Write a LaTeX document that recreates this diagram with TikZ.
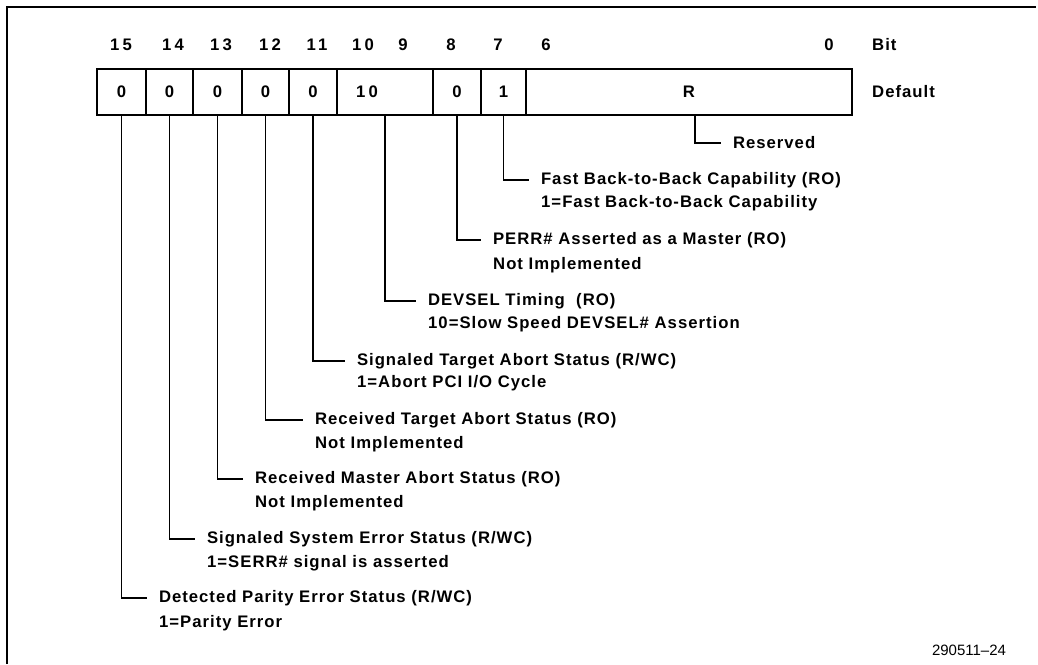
\documentclass[tikz,border=0pt]{standalone}
\usepackage{fontspec}
\setmainfont{Liberation Sans}[LetterSpace=6]
\newfontfamily\fignofont{Liberation Sans}
\newfontfamily\bitnofont{Liberation Sans}[LetterSpace=18]
\usetikzlibrary{positioning}

\begin{document}
\begin{tikzpicture}
    [
        x=1pt, y=-1pt,
        font=\fontsize{16.7}{19}\selectfont\bfseries,
        cell/.style={rectangle, draw, line width=1.4pt, minimum height=46pt, inner sep=0pt},
        bitno/.style={inner sep=0pt, font=\bitnofont\fontsize{16.7}{19}\selectfont\bfseries},
        field/.style={anchor=west, inner sep=0pt, outer xsep=12pt},
        note/.style={anchor=west, inner sep=0pt},
        lead/.style={line width=1.1pt},
    ]
    \useasboundingbox (0,0) rectangle (1038,664);
    \draw [line width=1.4pt] (7,664) -- (7,7) -- (1036,7);

    % register cells
    \node (c15) at (121.5,92) [cell, minimum width=49pt] {0};
    \node (c14) at (169.5,92) [cell, minimum width=47pt] {0};
    \node (c13) at (217.5,92) [cell, minimum width=49pt] {0};
    \node (c12) at (265.5,92) [cell, minimum width=47pt] {0};
    \node (c11) at (313,92) [cell, minimum width=48pt] {0};
    \node (c10) at (385,92) [cell, minimum width=96pt] {};
    \node (v10) at (367,92) [bitno] {10};
    \node (c8) at (457,92) [cell, minimum width=48pt] {0};
    \node (c7) at (503.5,92) [cell, minimum width=45pt] {1};
    \node (cr) at (689,92) [cell, minimum width=326pt] {R};

    % bit numbers
    \node (b15) at (121,45) [bitno] {15};
    \node (b14) at (173,45) [bitno] {14};
    \node (b13) at (221,45) [bitno] {13};
    \node (b12) at (270,45) [bitno] {12};
    \node (b11) at (317,45) [bitno] {11};
    \node (b10) at (363,45) [bitno] {10};
    \node (b9) at (403,45) [bitno] {9};
    \node (b8) at (451,45) [bitno] {8};
    \node (b7) at (498,45) [bitno] {7};
    \node (b6) at (546,45) [bitno] {6};
    \node (b0) at (829,45) [bitno] {0};
    \node (bit) at (872,45) [note] {Bit};
    \node (dflt) at (872,92) [note] {Default};

    % field descriptions
    \node (fr) at (721,143) [field] {Reserved};
    \node (f7) at (529,180) [field] {Fast Back-to-Back Capability (RO)};
    \node (n7) at (541,203) [note] {1=Fast Back-to-Back Capability};
    \node (f8) at (481,240) [field] {PERR\# Asserted as a Master (RO)};
    \node (n8) at (493,265) [note] {Not Implemented};
    \node (f10) at (416,301) [field] {DEVSEL Timing~ (RO)};
    \node (n10) at (428,324) [note] {10=Slow Speed DEVSEL\# Assertion};
    \node (f11) at (345,361) [field] {Signaled Target Abort Status (R/WC)};
    \node (n11) at (357,383) [note] {1=Abort PCI I/O Cycle};
    \node (f12) at (303,420) [field] {Received Target Abort Status (RO)};
    \node (n12) at (315,444) [note] {Not Implemented};
    \node (f13) at (243,479) [field] {Received Master Abort Status (RO)};
    \node (n13) at (255,503) [note] {Not Implemented};
    \node (f14) at (195,539) [field] {Signaled System Error Status (R/WC)};
    \node (n14) at (207,563) [note] {1=SERR\# signal is asserted};
    \node (f15) at (147,598) [field] {Detected Parity Error Status (R/WC)};
    \node (n15) at (159,623) [note] {1=Parity Error};

    % leaders
    \draw [lead] ([xshift=6pt]cr.south) |- (fr.west);
    \draw [lead] (c7.south) |- (f7.west);
    \draw [lead] (c8.south) |- (f8.west);
    \draw [lead] (c10.south) |- (f10.west);
    \draw [lead] (c11.south) |- (f11.west);
    \draw [lead] (c12.south) |- (f12.west);
    \draw [lead] (c13.south) |- (f13.west);
    \draw [lead] (c14.south) |- (f14.west);
    \draw [lead] (c15.south) |- (f15.west);

    \node (figno) at (969,650) [inner sep=0pt, font=\fignofont\fontsize{15}{17}\selectfont] {290511\textendash 24};
\end{tikzpicture}
\end{document}
